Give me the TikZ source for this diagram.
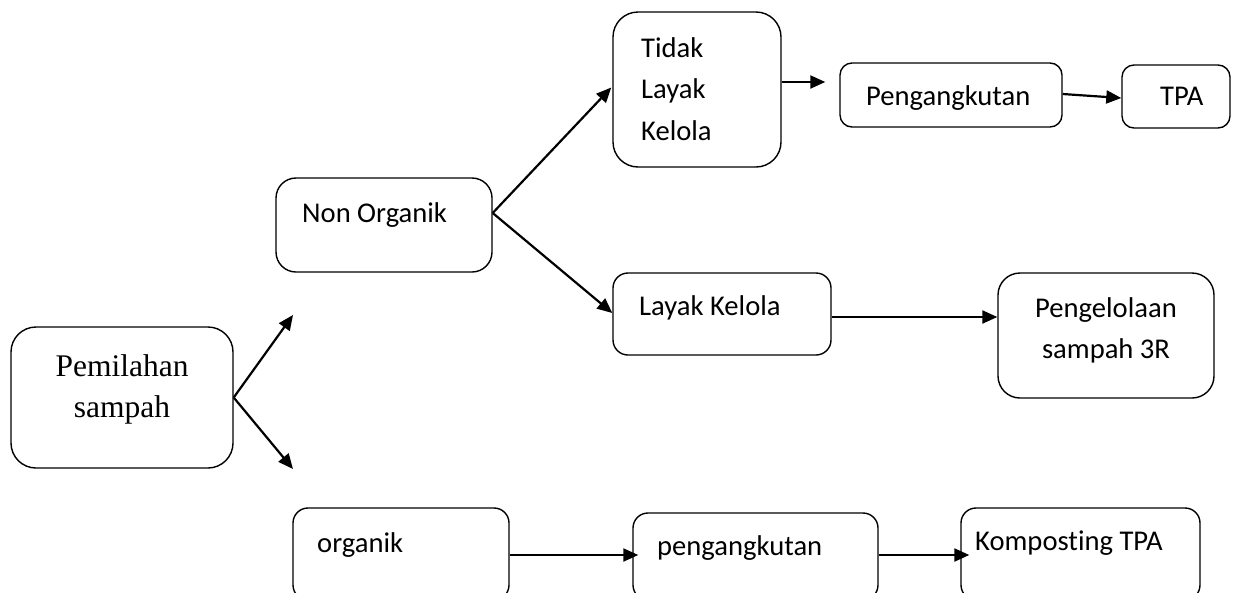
\documentclass[tikz,border=0pt]{standalone}
\usepackage{fontspec}
\setmainfont{Carlito}[Ligatures=CommonOff]
\newfontfamily\timesfont{Liberation Serif}
\usetikzlibrary{arrows.meta,calc}
\begin{document}
\begin{tikzpicture}[x=1pt,y=-1pt,
  box/.style={draw, line width=1.4pt, inner sep=0pt, rectangle},
  txt/.style={inner sep=0pt, font=\fontsize{28.6}{41.5}\selectfont},
  arr/.style={line width=2.2pt, -{Triangle[length=15pt,width=13pt]}}]
\useasboundingbox (0,0) rectangle (1233,592);
\clip (0,0) rectangle (1233,592);
\fill[white] (0,0) rectangle (1233,592);

% boxes
\node[box, rounded corners=25pt, minimum width=222pt, minimum height=141pt] (pem) at (122,397.5) {};
\node[box, rounded corners=20pt, minimum width=216pt, minimum height=94pt] (nonorg) at (384,225) {};
\node[box, rounded corners=25pt, minimum width=168pt, minimum height=155pt] (tidak) at (697,89.5) {};
\node[box, rounded corners=12pt, minimum width=222pt, minimum height=64pt] (peng1) at (951,95) {};
\node[box, rounded corners=12pt, minimum width=108pt, minimum height=63pt] (tpa) at (1176,96.5) {};
\node[box, rounded corners=15pt, minimum width=218pt, minimum height=82pt] (lk) at (722,314) {};
\node[box, rounded corners=22pt, minimum width=216pt, minimum height=125pt] (p3r) at (1106,335.5) {};
\node[box, rounded corners=15pt, minimum width=216pt, minimum height=92pt] (org) at (401,554) {};
\node[box, rounded corners=15pt, minimum width=245pt, minimum height=87pt] (peng2) at (755.5,556.5) {};
\node[box, rounded corners=15pt, minimum width=239pt, minimum height=92pt] (komp) at (1080.5,554) {};

% texts
\node[txt, font=\timesfont\fontsize{31.5}{41}\selectfont, anchor=base] (tpem) at (122,376)
  {\begin{tabular}[t]{@{}c@{}}Pemilahan\\ sampah\end{tabular}};
\node[txt, anchor=base west] (tnon) at (302,222) {Non Organik};
\node[txt, anchor=base west] (ttidak) at (641,57)
  {\begin{tabular}[t]{@{}l@{}}Tidak\\ Layak\\ Kelola\end{tabular}};
\node[txt, anchor=base west] (tpeng1) at (866,105) {Pengangkutan};
\node[txt, anchor=base west] (ttpa) at (1160,105) {TPA};
\node[txt, anchor=base west] (tlk) at (639,315) {Layak Kelola};
\node[txt, anchor=base] (tp3r) at (1106,317)
  {\begin{tabular}[t]{@{}c@{}}Pengelolaan\\ sampah 3R\end{tabular}};
\node[txt, anchor=base west] (torg) at (317,552) {organik};
\node[txt, anchor=base west] (tpeng2) at (657,555) {pengangkutan};
\node[txt, anchor=base west] (tkomp) at (975,550) {Komposting TPA};

% free arrow ends
\coordinate (up) at (293,315);
\coordinate (down) at (293,469);

% connectors
\draw[arr] (pem.east) -- (up);
\draw[arr] (pem.east) -- (down);
\draw[arr] ($(nonorg.east)+(0,-12)$) -- ($(tidak.west)+(-1,-2)$);
\draw[arr] ($(nonorg.east)+(0,-12)$) -- ($(lk.west)+(0,-1)$);
\draw[arr] ($(tidak.east)+(0,-7.5)$) -- ($(peng1.west)+(-14,-13)$);
\draw[arr] ($(peng1.east)+(0,-1)$) -- ($(tpa.west)+(0,1.5)$);
\draw[arr] ($(lk.east)+(0,3)$) -- ($(p3r.west)+(0,-18.5)$);
\draw[arr] ($(org.east)+(0,1)$) -- ($(peng2.west)+(6,-1.5)$);
\draw[arr] ($(peng2.east)+(0,-1.5)$) -- ($(komp.west)+(9,1)$);
\end{tikzpicture}
\end{document}
